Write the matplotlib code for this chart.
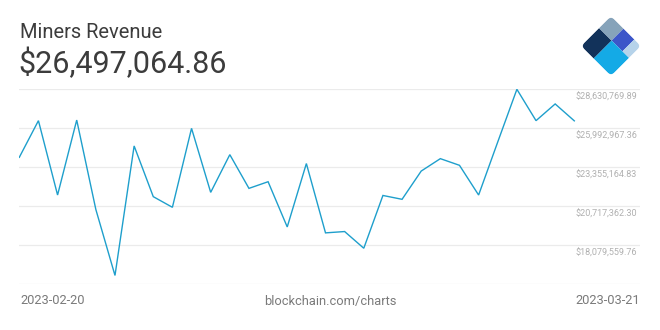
import matplotlib
matplotlib.use("Agg")
import matplotlib.pyplot as plt
from matplotlib.patches import Polygon, FancyBboxPatch
from matplotlib.transforms import Affine2D

plt.rcParams['font.family'] = ['Roboto', 'DejaVu Sans']

# daily miners revenue, USD (2023-02-20 .. 2023-03-21)
revenue = [24.03, 26.51, 21.48, 26.55, 20.50, 16.04, 24.80, 21.37, 20.65, 25.99,
           21.66, 24.21, 21.93, 22.38, 19.32, 23.61, 18.92, 19.01, 17.88, 21.45,
           21.19, 23.10, 23.94, 23.49, 21.48, 25.07, 28.63, 26.51, 27.64, 26.497]
revenue = [v * 1e6 for v in revenue]
days = list(range(len(revenue)))

ticks = [15441757.23, 18079559.76, 20717362.30, 23355164.83, 25992967.36, 28630769.89]
title = "Miners Revenue"
headline = "$26,497,064.86"
start_label, end_label = "2023-02-20", "2023-03-21"
source = "blockchain.com/charts"

fig = plt.figure(figsize=(6.6, 3.3), dpi=100)
W, H = 660, 330
ax = fig.add_axes([19.3 / W, 1 - 284.3 / H, (640 - 19.3) / W, 195 / H])

ax.plot(days, revenue, color='#1e9fcc', lw=1.0, solid_joinstyle='miter')
ax.set_xlim(0, (640 - 19.3) / 19.138)
ax.set_ylim(ticks[0], ticks[-1])
for t in ticks:
    ax.axhline(t, color='#ebebeb', lw=0.9, zorder=0)
for t in ticks[1:]:
    ax.annotate("${:,.2f}".format(t), xy=(1, t), xycoords=('axes fraction', 'data'),
                xytext=(-2, -5.8), textcoords='offset points', ha='right', va='center',
                fontsize=6.5, color='#b0b0b0')
for s in ax.spines.values():
    s.set_visible(False)
ax.set_xticks([])
ax.set_yticks([])
ax.patch.set_alpha(0)

fig.text(20 / W, 1 - 32 / H, title, fontsize=14.5, color='#3c3c3c', ha='left', va='center')
fig.text(18 / W, 1 - 63.5 / H, headline, fontsize=22, color='#3c3c3c', ha='left', va='center')
fig.text(20 / W, 1 - 301 / H, start_label, fontsize=9.3, color='#7a7a7a', ha='left', va='center')
fig.text(330 / W, 1 - 301 / H, source, fontsize=9.3, color='#7a7a7a', ha='center', va='center')
fig.text(640 / W, 1 - 301 / H, end_label, fontsize=9.3, color='#7a7a7a', ha='right', va='center')

# logo: rotated square split into blocks
lax = fig.add_axes([0, 0, 1, 1])
lax.set_xlim(0, W)
lax.set_ylim(0, H)
lax.axis('off')
tr = Affine2D().from_values(30, 30, 30, -30, 581, H - 46) + lax.transData
clip = FancyBboxPatch((0, 0), 1, 1, boxstyle="round,pad=0,rounding_size=0.12",
                      transform=tr, facecolor='none', edgecolor='none')
lax.add_patch(clip)
blocks = [((0, 0.6), (0, 0.42), '#12325a'),
          ((0.6, 1), (0, 0.42), '#86a3ba'),
          ((0.6, 1), (0.42, 0.78), '#3c56c9'),
          ((0.6, 1), (0.78, 1), '#b6d3ea'),
          ((0, 0.6), (0.42, 1), '#14aae6')]
for (a0, a1), (b0, b1), c in blocks:
    p = Polygon([(a0, b0), (a1, b0), (a1, b1), (a0, b1)], closed=True,
                facecolor=c, edgecolor='none', transform=tr)
    lax.add_patch(p)
    p.set_clip_path(clip)

fig.savefig("out.png", dpi=100)
